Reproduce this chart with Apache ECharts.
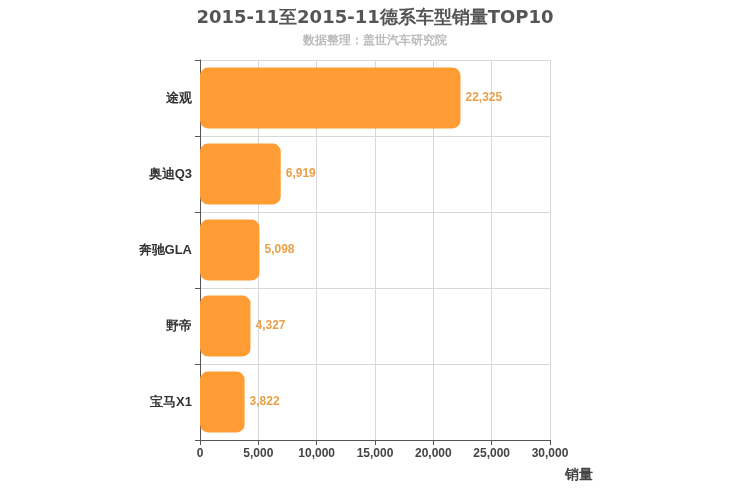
<!DOCTYPE html>
<html><head><meta charset="utf-8">
<script src="https://cdn.jsdelivr.net/npm/echarts@6/dist/echarts.min.js"></script>
<style>html,body{margin:0;padding:0}#c{width:750px;height:500px}</style>
</head><body><div id="c"></div>
<script>
const categories = ['途观','奥迪Q3','奔驰GLA','野帝','宝马X1'];
const sales = [22325,6919,5098,4327,3822];
const chart = echarts.init(document.getElementById('c'));
chart.setOption({
  title:{text:'2015-11至2015-11德系车型销量TOP10',subtext:'数据整理：盖世汽车研究院',left:'center',top:4,
    textStyle:{fontSize:18,fontWeight:'bold',color:'#555',fontFamily:'DejaVu Sans'},
    subtextStyle:{fontSize:12,fontWeight:'bold',color:'#bbb'},itemGap:8},
  grid:{left:200,right:200,top:60,bottom:60},
  xAxis:{type:'value',min:0,max:30000,interval:5000,name:'销量',nameLocation:'end',
    nameTextStyle:{fontSize:14,fontWeight:'bold',color:'#444',padding:[28,0,0,0],verticalAlign:'top'},
    axisLine:{show:true,lineStyle:{color:'#555'}},axisTick:{show:true},
    axisLabel:{color:'#444',fontWeight:'bold',fontSize:12},
    splitLine:{lineStyle:{color:'#d8d8d8'}}},
  yAxis:{type:'category',data:categories,inverse:true,
    axisLine:{lineStyle:{color:'#555'}},axisTick:{show:true},
    axisLabel:{color:'#333',fontWeight:'bold',fontSize:13},
    splitLine:{show:true,lineStyle:{color:'#d8d8d8'}}},
  series:[{type:'bar',data:sales,barWidth:'80%',
    itemStyle:{color:'#ff9c33',borderRadius:8},
    label:{show:true,position:'right',color:'#e8a04a',fontWeight:'bold',fontSize:12,
      formatter:p=>p.value.toLocaleString('en-US')}}]
});
</script></body></html>
